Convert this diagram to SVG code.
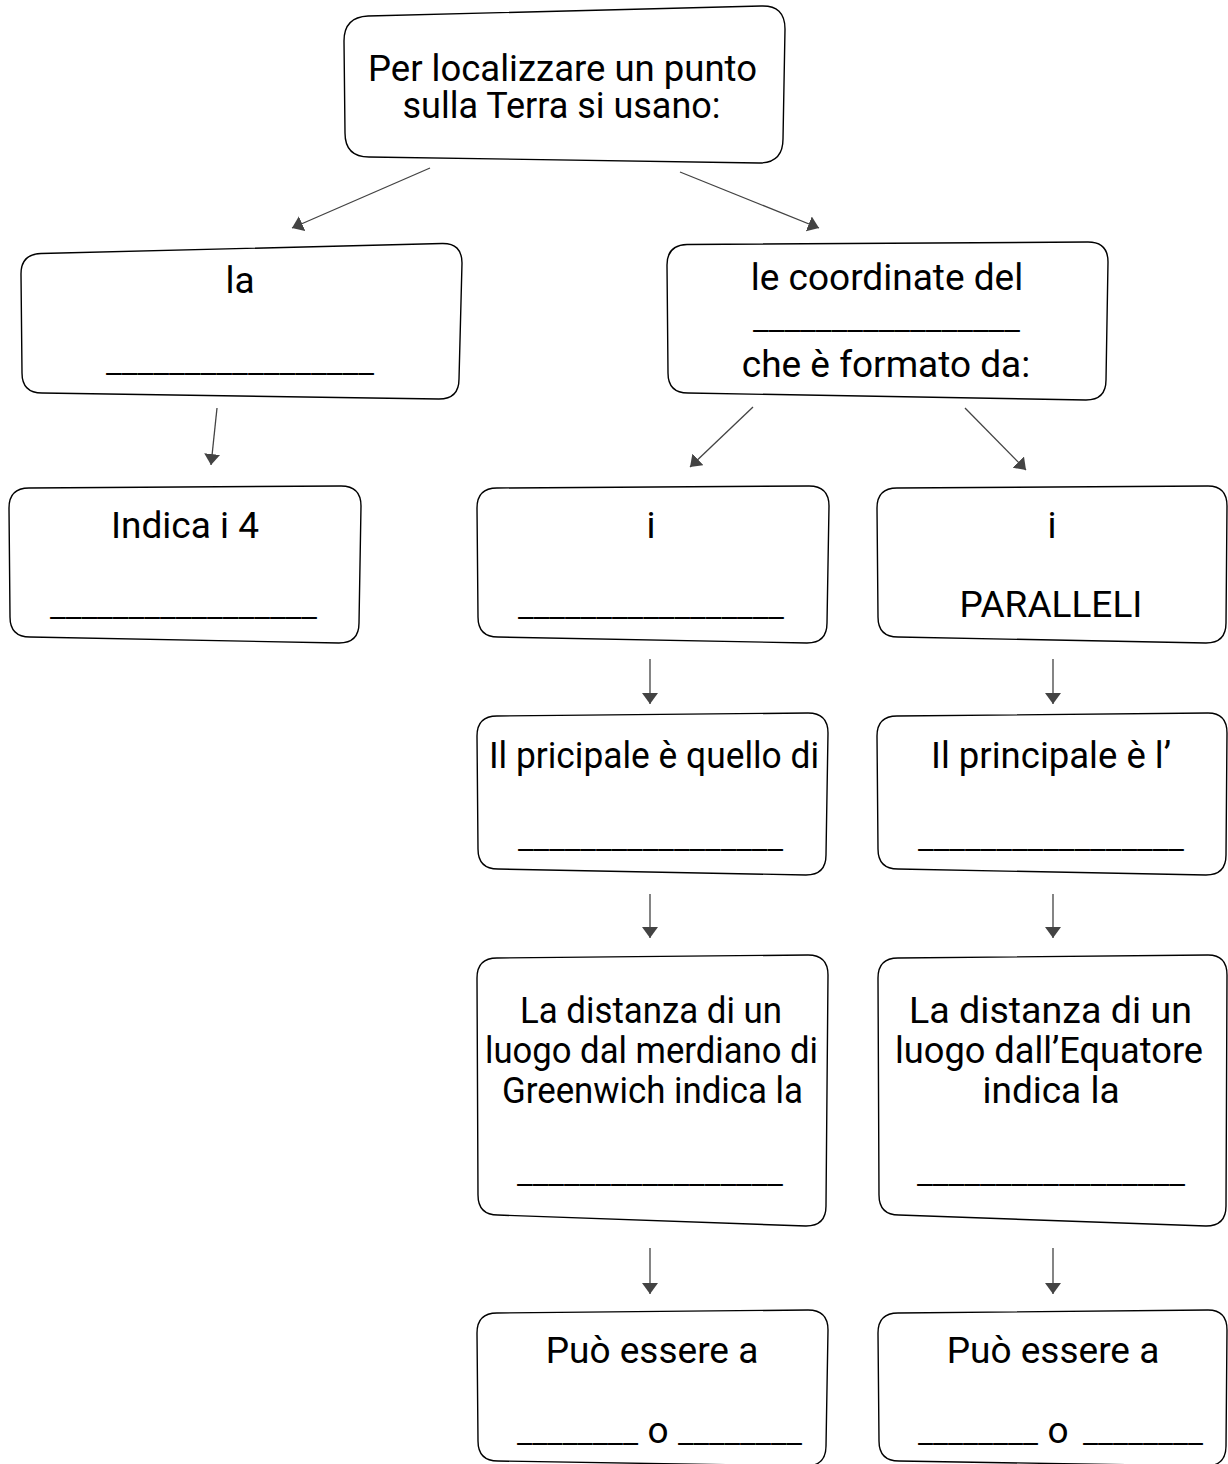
<svg xmlns="http://www.w3.org/2000/svg" width="1228" height="1464" viewBox="0 0 1228 1464">
<style>
  .box { fill: #ffffff; stroke: #000000; stroke-width: 1.4; stroke-linejoin: round; }
  .t { font-family: Roboto, "Liberation Sans", sans-serif; font-size: 37px; fill: #000000; text-anchor: middle; }
  .u { font-family: Roboto, "Liberation Sans", sans-serif; font-size: 26px; fill: #000000; text-anchor: start; }
  .conn { stroke: #434343; stroke-width: 1.3; fill: none; marker-end: url(#arr); }
</style>
<defs>
  <marker id="arr" markerUnits="userSpaceOnUse" viewBox="0 0 11 16" markerWidth="11" markerHeight="16" refX="11" refY="8" orient="auto">
    <path d="M0,0 L11,8 L0,16 Z" fill="#434343"/>
  </marker>
</defs>
<rect x="0" y="0" width="1228" height="1464" fill="#ffffff"/>

<g id="connectors">
  <line class="conn" x1="430" y1="168" x2="292" y2="228"/>
  <line class="conn" x1="680" y1="172" x2="819" y2="228"/>
  <line class="conn" x1="217" y1="408" x2="211" y2="465"/>
  <line class="conn" x1="753" y1="407" x2="690" y2="467"/>
  <line class="conn" x1="965" y1="408" x2="1026" y2="470"/>
  <line class="conn" x1="650" y1="659" x2="650" y2="704"/>
  <line class="conn" x1="1053" y1="659" x2="1053" y2="704"/>
  <line class="conn" x1="650" y1="894" x2="650" y2="938"/>
  <line class="conn" x1="1053" y1="894" x2="1053" y2="938"/>
  <line class="conn" x1="650" y1="1248" x2="650" y2="1294"/>
  <line class="conn" x1="1053" y1="1248" x2="1053" y2="1294"/>
</g>

<g id="node-root">
  <path class="box" d="M368,16 L761,6 Q785,5 785,29 L783,139 Q783,163 759,163 L369,157 Q345,157 345,133 L344,41 Q344,17 368,16 Z"/>
  <text class="t" x="562.5" y="81" textLength="389" lengthAdjust="spacingAndGlyphs">Per localizzare un punto</text>
  <text class="t" x="561.5" y="118" textLength="318" lengthAdjust="spacingAndGlyphs">sulla Terra si usano:</text>
</g>

<g id="node-la">
  <path class="box" d="M41,253.5 L442,243.5 Q462,243 462,263 L459,379 Q459,399 439,399 L42,393 Q22,393 22,373 L21,274 Q21,254 41,253.5 Z"/>
  <text class="t" x="240" y="293">la</text>
  <text class="u" x="106" y="372.5" textLength="268" lengthAdjust="spacingAndGlyphs">_________________</text>
</g>

<g id="node-indica">
  <path class="box" d="M29,488 L341,486 Q361,486 361,506 L359,623 Q359,643 339,643 L30,637 Q10,637 10,617 L9,508 Q9,488 29,488 Z"/>
  <text class="t" x="185" y="538">Indica i 4</text>
  <text class="u" x="50" y="616.5" textLength="267" lengthAdjust="spacingAndGlyphs">_________________</text>
</g>

<g id="node-coordinate">
  <path class="box" d="M687,244.5 L1088,242 Q1108,242 1108,262 L1106,380 Q1106,400 1086,400 L688,393 Q668,393 668,373 L667,265 Q667,245 687,244.5 Z"/>
  <text class="t" x="887" y="290">le coordinate del</text>
  <text class="u" x="753" y="329.5" textLength="267" lengthAdjust="spacingAndGlyphs">_________________</text>
  <text class="t" x="886" y="377">che è formato da:</text>
</g>

<g id="node-meridiani">
  <path class="box" d="M497,488 L809,486 Q829,486 829,506 L827,623 Q827,643 807,643 L498,637 Q478,637 478,617 L477,508 Q477,488 497,488 Z"/>
  <text class="t" x="651" y="538">i</text>
  <text class="u" x="518" y="616.5" textLength="266" lengthAdjust="spacingAndGlyphs">_________________</text>
</g>

<g id="node-paralleli">
  <path class="box" d="M897,488 L1208,486 Q1227,486 1227,506 L1226,623 Q1226,643 1206,643 L898,637 Q878,637 878,617 L877,508 Q877,488 897,488 Z"/>
  <text class="t" x="1052" y="538">i</text>
  <text class="t" x="1051" y="617">PARALLELI</text>
</g>

<g id="node-greenwich">
  <path class="box" d="M497,716 L808,713 Q828,713 828,733 L826,855 Q826,875 806,875 L498,869 Q478,869 478,849 L477,736 Q477,716 497,716 Z"/>
  <text class="t" x="654" y="768" textLength="330" lengthAdjust="spacingAndGlyphs">Il pricipale è quello di</text>
  <text class="u" x="518" y="848.5" textLength="265" lengthAdjust="spacingAndGlyphs">_________________</text>
</g>

<g id="node-equatore">
  <path class="box" d="M897,716 L1208,713 Q1227,713 1227,733 L1226,855 Q1226,875 1206,875 L898,869 Q878,869 878,849 L877,736 Q877,716 897,716 Z"/>
  <text class="t" x="1051" y="768" textLength="240" lengthAdjust="spacingAndGlyphs">Il principale è l’</text>
  <text class="u" x="918" y="848.5" textLength="266" lengthAdjust="spacingAndGlyphs">_________________</text>
</g>

<g id="node-longitudine">
  <path class="box" d="M497,958 L808,955 Q828,955 828,975 L826,1206 Q826,1226 806,1226 L498,1215 Q478,1215 478,1195 L477,978 Q477,958 497,958 Z"/>
  <text class="t" x="651" y="1023" textLength="262" lengthAdjust="spacingAndGlyphs">La distanza di un</text>
  <text class="t" x="651.5" y="1063" textLength="333" lengthAdjust="spacingAndGlyphs">luogo dal merdiano di</text>
  <text class="t" x="652.5" y="1103" textLength="301" lengthAdjust="spacingAndGlyphs">Greenwich indica la</text>
  <text class="u" x="517" y="1183.5" textLength="266" lengthAdjust="spacingAndGlyphs">_________________</text>
</g>

<g id="node-latitudine">
  <path class="box" d="M898,958 L1208,955 Q1227,955 1227,975 L1226,1206 Q1226,1226 1206,1226 L899,1215 Q879,1215 879,1195 L878,978 Q878,958 898,958 Z"/>
  <text class="t" x="1050.5" y="1023" textLength="283" lengthAdjust="spacingAndGlyphs">La distanza di un</text>
  <text class="t" x="1049" y="1063" textLength="308" lengthAdjust="spacingAndGlyphs">luogo dall’Equatore</text>
  <text class="t" x="1051" y="1103">indica la</text>
  <text class="u" x="917" y="1183.5" textLength="268" lengthAdjust="spacingAndGlyphs">_________________</text>
</g>

<g id="node-est-ovest">
  <path class="box" d="M497,1313 L808,1310 Q828,1310 828,1330 L826,1446 Q826,1466 806,1466 L498,1461 Q478,1461 478,1441 L477,1333 Q477,1313 497,1313 Z"/>
  <text class="t" x="652" y="1363">Può essere a</text>
  <text class="u" x="517" y="1442.5" textLength="121" lengthAdjust="spacingAndGlyphs">________</text>
  <text class="t" x="658" y="1443">o</text>
  <text class="u" x="678" y="1442.5" textLength="124" lengthAdjust="spacingAndGlyphs">________</text>
</g>

<g id="node-nord-sud">
  <path class="box" d="M898,1313 L1208,1310 Q1227,1310 1227,1330 L1226,1446 Q1226,1466 1206,1466 L899,1461 Q879,1461 879,1441 L878,1333 Q878,1313 898,1313 Z"/>
  <text class="t" x="1053" y="1363">Può essere a</text>
  <text class="u" x="918" y="1442.5" textLength="120" lengthAdjust="spacingAndGlyphs">________</text>
  <text class="t" x="1058" y="1443">o</text>
  <text class="u" x="1083" y="1442.5" textLength="120" lengthAdjust="spacingAndGlyphs">________</text>
</g>
</svg>
